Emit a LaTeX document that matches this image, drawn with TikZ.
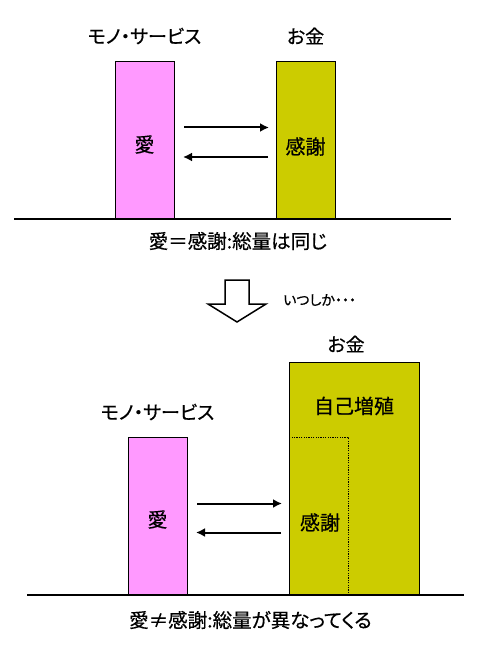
\documentclass[tikz,border=0pt]{standalone}
\usepackage{fontspec}
\usepackage{tikz}
\usetikzlibrary{arrows.meta}
\newfontfamily\jpfont{Noto Sans CJK JP}[RawFeature=+palt,FakeBold=0.5]
\definecolor{pinkbar}{HTML}{FF99FF}
\definecolor{olivebar}{HTML}{CCCC00}

\begin{document}
\begin{tikzpicture}[x=1pt,y=-1pt,>={Latex[length=9pt,width=9pt]},
	bar/.style={draw,line width=.8pt,%
		minimum width=59pt,minimum height=157pt,%
		inner sep=0pt,outer sep=0pt,anchor=north west},
	goods/.style={bar,fill=pinkbar},
	money/.style={bar,fill=olivebar},
	flow/.style={->,line width=2pt},
	ground/.style={line width=2pt},
	tag/.style={font=\jpfont\fontsize{19}{21}\selectfont,inner sep=0pt},
	inside/.style={font=\jpfont\fontsize{20}{22}\selectfont,inner sep=0pt},
	caption/.style={font=\jpfont\fontsize{19.5}{21}\selectfont,inner sep=0pt}]
	\useasboundingbox (0,0) rectangle (500,650);
	% before
	\node[goods] (goodsA) at (115,61) {};
	\node[money] (moneyA) at (276,61) {};
	\draw[ground] (14,219) -- (451,219);
	\node[tag] (goodsAtag) at ([yshift=25pt]goodsA.north) {モノ・サービス};
	\node[tag] (moneyAtag) at ([yshift=25pt]moneyA.north) {お金};
	\node[inside] (loveA) at ([yshift=-5pt]goodsA.center) {愛};
	\node[inside] (thanksA) at ([yshift=-7pt]moneyA.center) {感謝};
	\draw[flow] ([xshift=10pt,yshift=12pt]goodsA.east) -- ([xshift=-7pt,yshift=12pt]moneyA.west);
	\draw[flow] ([xshift=-8pt,yshift=-17.5pt]moneyA.west) -- ([xshift=9pt,yshift=-17.5pt]goodsA.east);
	\node[caption] (capA) at (238,241) {愛＝感謝:総量は同じ};
	% hollow arrow
	\draw[line width=1.5pt,line join=miter,fill=white]
		(225,280) -- (249,280) -- (249,304) -- (266,304) -- (237,322)
		-- (208,304) -- (225,304) -- cycle;
	\node[font=\jpfont\fontsize{14}{16}\selectfont,inner sep=0pt,anchor=west] (later) at (283,300) {いつしか・・・};
	% after
	\node[goods] (goodsB) at (128,437) {};
	\node[money,minimum width=130pt,minimum height=232pt] (growthB) at (289,362) {};
	\node[bar,draw,dash pattern=on 1.2pt off 1.2pt] (thanksBox) at (289,437) {};
	\draw[ground] (27,595) -- (464,595);
	\node[tag] (goodsBtag) at ([yshift=25pt]goodsB.north) {モノ・サービス};
	\node[tag] (moneyBtag) at ([xshift=-8pt,yshift=18pt]growthB.north) {お金};
	\node[inside] (growth) at (354,406) {自己増殖};
	\node[inside] (loveB) at ([yshift=-4pt]goodsB.center) {愛};
	\node[inside] (thanksB) at ([xshift=1.5pt,yshift=-7pt]thanksBox.center) {感謝};
	\draw[flow] ([xshift=10pt,yshift=12pt]goodsB.east) -- ([xshift=-7pt,yshift=12pt]thanksBox.west);
	\draw[flow] ([xshift=-8pt,yshift=-17pt]thanksBox.west) -- ([xshift=9pt,yshift=-17pt]goodsB.east);
	\node[caption] (capB) at (250.5,620) {愛≠感謝:総量が異なってくる};
\end{tikzpicture}
\end{document}
